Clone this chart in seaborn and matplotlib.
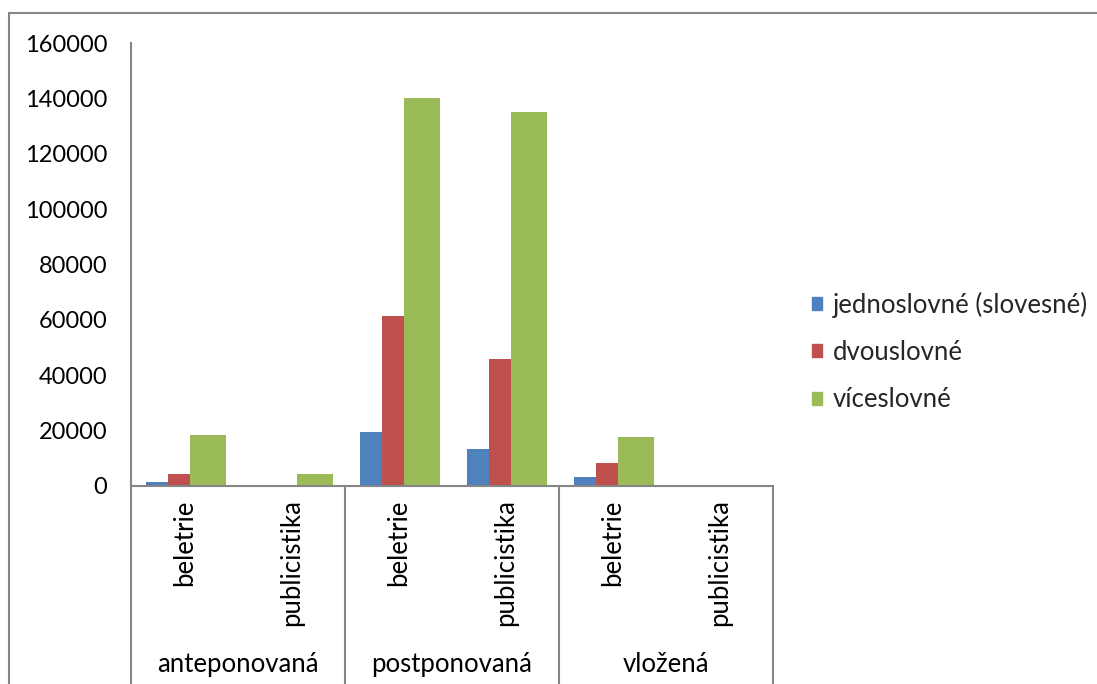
import matplotlib
matplotlib.use("Agg")
import matplotlib.pyplot as plt
import matplotlib.patches as mpatches
from matplotlib.lines import Line2D
import pandas as pd
import seaborn as sns

# --- data -------------------------------------------------------------
groups = ["anteponovaná", "postponovaná", "vložená"]
genres = ["beletrie", "publicistika"]
series = ["jednoslovné (slovesné)", "dvouslovné", "víceslovné"]

jednoslovne = [1500, 0, 19500, 13500, 3300, 0]
dvouslovne = [4200, 300, 61500, 46000, 8300, 0]
viceslovne = [18300, 4200, 140300, 135000, 17800, 400]

y_ticks = [0, 20000, 40000, 60000, 80000, 100000, 120000, 140000, 160000]
colors = ["#4F81BD", "#C0504D", "#9BBB59"]

# --- long table for seaborn ----------------------------------------------
categories = [f"{g}|{s}" for g in groups for s in genres]
rows = []
for name, vals in zip(series, [jednoslovne, dvouslovne, viceslovne]):
    for cat, v in zip(categories, vals):
        rows.append({"kat": cat, "serie": name, "pocet": v})
df = pd.DataFrame(rows)

sns.set_theme(style="white")
plt.rcParams["font.family"] = ["Lato", "DejaVu Sans"]
FS = 18.5
FS_TICK = 17
GRAY = "#868686"

fig = plt.figure(figsize=(10.97, 6.84), dpi=100)
ax = fig.add_axes([131 / 1097, 198 / 684, 642 / 1097, 443 / 684])

sns.barplot(data=df, x="kat", y="pocet", hue="serie", order=categories,
            hue_order=series, palette=colors, dodge=True, width=0.8,
            saturation=1, errorbar=None, legend=False, ax=ax)

# Bar geometry: two narrow bars followed by a wider third bar
offsets = [(-0.36, 0.205), (-0.155, 0.205), (0.05, 0.335)]
for cont, (off, w) in zip(ax.containers, offsets):
    for i, bar in enumerate(cont):
        bar.set_x(i + off)
        bar.set_width(w)
        bar.set_edgecolor("none")

ax.set_xlim(-0.5, len(categories) - 0.5)
ax.set_ylim(0, 160000)
ax.set_yticks(y_ticks)
ax.set_yticklabels([str(t) for t in y_ticks], fontsize=FS_TICK, color="black")
ax.tick_params(axis="y", length=0, pad=17)
ax.set_xticks([])
ax.set_xlabel("")
ax.set_ylabel("")
for side in ["top", "right"]:
    ax.spines[side].set_visible(False)
for side in ["left", "bottom"]:
    ax.spines[side].set_color(GRAY)
    ax.spines[side].set_linewidth(1.5)

# Multi-level category axis
trans = ax.get_xaxis_transform()
bottom = -0.46
for xpos in [-0.5, 1.5, 3.5, 5.5]:
    ax.add_line(Line2D([xpos, xpos], [0, bottom], transform=trans,
                       color=GRAY, lw=1.5, clip_on=False))

for i, cat in enumerate(categories):
    ax.text(i, -0.03, cat.split("|")[1], transform=trans, rotation=90,
            ha="center", va="top", fontsize=FS, color="black")
for j, g in enumerate(groups):
    ax.text(2 * j + 0.5, -0.404, g, transform=trans, ha="center",
            va="center", fontsize=FS, color="black")

# Legend
handles = [mpatches.Patch(color=c) for c in colors]
fig.legend(handles, series, loc="center left",
           bbox_to_anchor=(812 / 1097, 1 - 352 / 684), frameon=False,
           fontsize=FS, handlelength=0.4, handleheight=0.4,
           handletextpad=0.4, labelspacing=0.87, borderpad=0,
           borderaxespad=0)

# Chart area border
fig.add_artist(mpatches.Rectangle((8.5 / 1097, -0.1), 1.2, 1.1 - 13 / 684,
                                  transform=fig.transFigure, fill=False,
                                  edgecolor=GRAY, lw=1.5))

fig.savefig("out.png", dpi=100)
